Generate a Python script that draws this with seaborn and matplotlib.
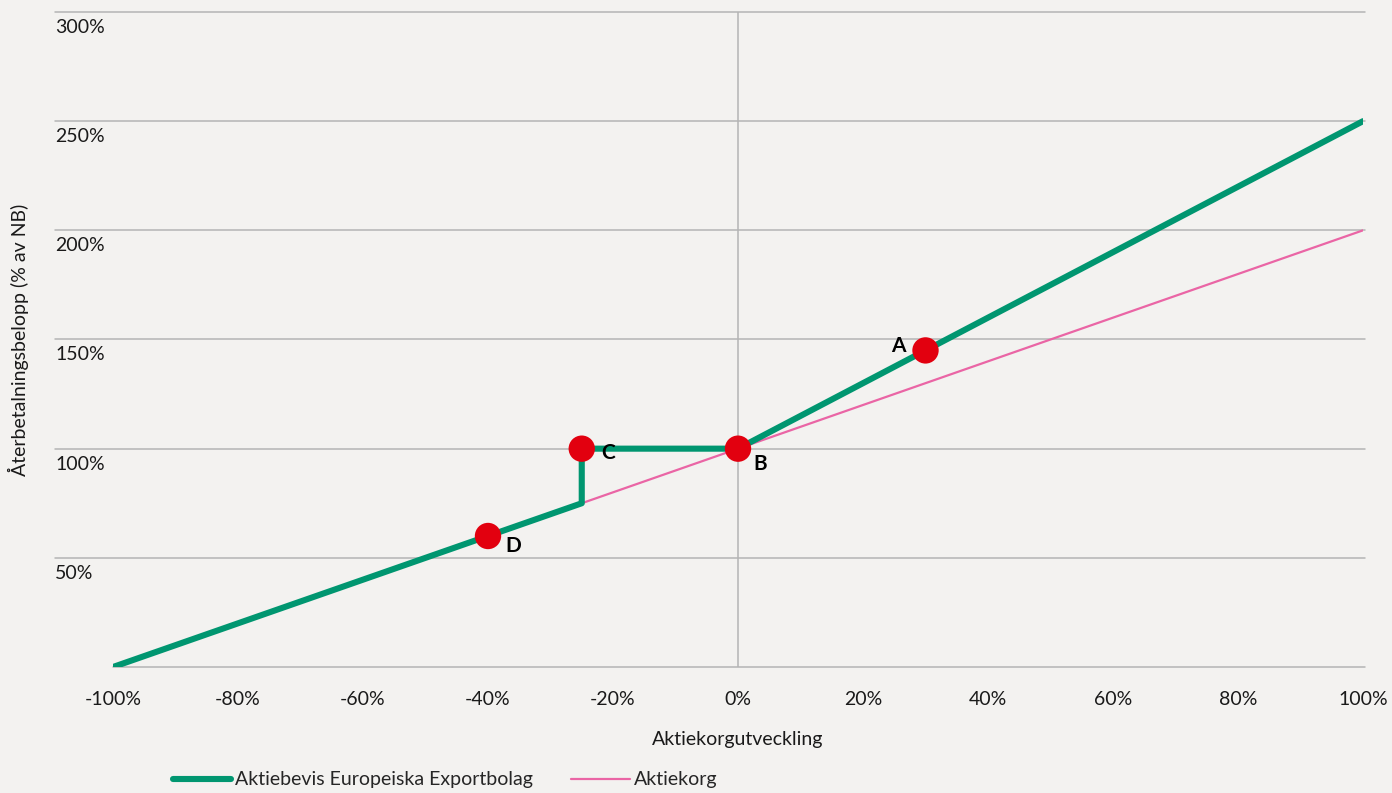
import matplotlib
matplotlib.use("Agg")
import matplotlib.pyplot as plt
import matplotlib.transforms as mtransforms
import numpy as np
import pandas as pd
import seaborn as sns

# Data (percent)
cert_x = [-100, -90, -80, -70, -60, -50, -40, -30, -25, -25, -15, 0,
          10, 20, 30, 40, 50, 60, 70, 80, 90, 100]
cert_y = [0, 10, 20, 30, 40, 50, 60, 70, 75, 100, 100, 100,
          115, 130, 145, 160, 175, 190, 205, 220, 235, 250]
basket_x = [-100, -75, -50, -25, 0, 25, 50, 75, 100]
basket_y = [0, 25, 50, 75, 100, 125, 150, 175, 200]
point_names = ["A", "B", "C", "D"]
point_x = [30, 0, -25, -40]
point_y = [145, 100, 100, 60]

cert_label = "Aktiebevis Europeiska Exportbolag"
basket_label = "Aktiekorg"
y_ticks = [50, 100, 150, 200, 250, 300]
x_ticks = [-100, -80, -60, -40, -20, 0, 20, 40, 60, 80, 100]

BG = "#f3f2f0"
GREEN = "#009670"
PINK = "#ea65a5"
RED = "#e2000f"
GRID = "#b4b4b4"
TXT = "#1a1a1a"
FS = 14

sns.set_style("white", {"axes.facecolor": BG, "figure.facecolor": BG})
plt.rcParams['font.family'] = ['Lato', 'DejaVu Sans']

fig = plt.figure(figsize=(13.92, 7.93), dpi=100)
L, R = 113, 1363
ax = fig.add_axes([L / 1392, 1 - 667 / 793, (R - L) / 1392, 655 / 793])

cert = pd.DataFrame({"x": cert_x, "y": cert_y})
basket = pd.DataFrame({"x": basket_x, "y": basket_y})
pts = pd.DataFrame({"x": point_x, "y": point_y, "name": point_names})

ax.set_xlim(-100, 100)
ax.set_ylim(0, 300)

# horizontal gridlines extend left under the y labels
grid_left = (55 - L) / (R - L)
grid_right = (1365 - L) / (R - L)
for v in y_ticks:
    ax.plot([grid_left, grid_right], [v, v], color=GRID, lw=1.1, zorder=1,
            transform=ax.get_yaxis_transform(), clip_on=False)
    ax.text(grid_left, v, f"{v}%", transform=ax.get_yaxis_transform() +
            mtransforms.ScaledTranslation(0, -5 / 72, fig.dpi_scale_trans),
            ha="left", va="top", fontsize=FS, color=TXT)
ax.axvline(0, color=GRID, lw=1.1, zorder=1)
ax.plot([0, grid_right], [0, 0], color=GRID, lw=1.1, zorder=1,
        transform=ax.get_yaxis_transform(), clip_on=False)

sns.lineplot(data=basket, x="x", y="y", ax=ax, color=PINK, lw=1.6,
             zorder=2, label=basket_label, estimator=None, sort=False)
sns.lineplot(data=cert, x="x", y="y", ax=ax, color=GREEN, lw=4.4,
             zorder=3, label=cert_label, estimator=None, sort=False,
             solid_capstyle="round")
sns.scatterplot(data=pts, x="x", y="y", ax=ax, color=RED, s=360,
                edgecolor="none", zorder=4, legend=False)

offsets = {"A": (-27, 4), "B": (22, -15), "C": (26, -4), "D": (25, -10)}
for n, xv, yv in zip(point_names, point_x, point_y):
    dx, dy = offsets[n]
    ax.annotate(n, (xv, yv), xytext=(dx * 0.72, dy * 0.72),
                textcoords="offset points", ha="center", va="center",
                fontsize=15, fontweight="bold", color="black", zorder=5)

for s in ax.spines.values():
    s.set_visible(False)
ax.set_xticks(x_ticks)
ax.set_xticklabels([f"{t}%" for t in x_ticks])
ax.set_yticks([])
ax.tick_params(axis="x", length=5, color=GRID, width=1, pad=12,
               labelsize=FS, labelcolor=TXT)
ax.set_xlabel("Aktiekorgutveckling", fontsize=FS, color=TXT)
ax.xaxis.set_label_coords(0.5, (667 - 740) / 655)
ax.xaxis.label.set_va("center")
ax.set_ylabel("Återbetalningsbelopp (% av NB)", fontsize=FS, color=TXT)
ax.yaxis.set_label_coords((18 - L) / (R - L), 0.5)
ax.yaxis.label.set_va("center")

handles, labels = ax.get_legend_handles_labels()
order = [labels.index(cert_label), labels.index(basket_label)]
ax.legend([handles[i] for i in order], [labels[i] for i in order],
          loc="center left", bbox_to_anchor=(155 / 1392, 13 / 793), ncol=2,
          bbox_transform=fig.transFigure, frameon=False, fontsize=FS,
          handlelength=3.0, handletextpad=0.2, columnspacing=2.0)

fig.savefig("out.png", dpi=100, facecolor=BG)
